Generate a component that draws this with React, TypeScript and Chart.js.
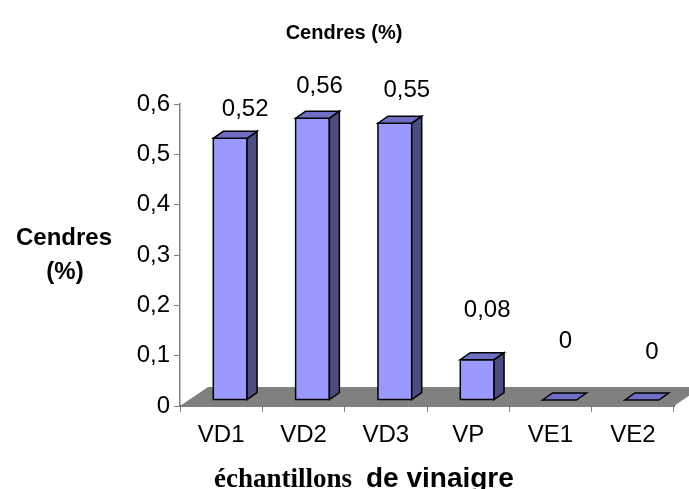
import { useEffect, useRef } from "react";
import { Chart, registerables } from "chart.js";

Chart.register(...registerables);

// ---- data ----
const categories = ["VD1", "VD2", "VD3", "VP", "VE1", "VE2"];
const cendres = [0.52, 0.56, 0.55, 0.08, 0, 0];
const yTicks = [0, 0.1, 0.2, 0.3, 0.4, 0.5, 0.6];
const chartTitle = "Cendres (%)";
const yTitleLines = ["Cendres", "(%)"];
const xTitleSerif = "échantillons";
const xTitleSans = "de vinaigre";

// ---- value-label placement (relative to the bar's front-top corner) ----
const labelShiftX = [24, 16, 21, 19, 15, 19];
const labelLift = [29, 32, 33, 49, 59, 48];

// ---- styling ----
const SANS = '"Liberation Sans", Arial, sans-serif';
const SERIF = '"Liberation Serif", "Times New Roman", serif';
const FLOOR = { dx: 28, dy: -19, color: "#808080" };
const BAR_SHIFT = { dx: 9, dy: -6 };
const BAR_DEPTH = { dx: 10, dy: -7 };
const FRONT = "#9999FF";
const TOP = "#6E6EC4";
const SIDE = "#4C4C80";

const fmt = (v: number) => String(v).replace(".", ",");

const poly = (ctx: CanvasRenderingContext2D, pts: number[][], fill: string) => {
  ctx.beginPath();
  ctx.moveTo(pts[0][0], pts[0][1]);
  for (let i = 1; i < pts.length; i++) ctx.lineTo(pts[i][0], pts[i][1]);
  ctx.closePath();
  ctx.fillStyle = fill;
  ctx.fill();
  ctx.stroke();
};

const bars3d = {
  id: "bars3d",
  beforeDatasetsDraw(chart: any) {
    const { ctx, chartArea, scales } = chart;
    const y0 = scales.y.getPixelForValue(0);
    ctx.save();
    ctx.fillStyle = FLOOR.color;
    ctx.beginPath();
    ctx.moveTo(chartArea.left, y0);
    ctx.lineTo(chartArea.right, y0);
    ctx.lineTo(chartArea.right + FLOOR.dx, y0 + FLOOR.dy);
    ctx.lineTo(chartArea.left + FLOOR.dx, y0 + FLOOR.dy);
    ctx.closePath();
    ctx.fill();
    ctx.restore();
  },
  afterDatasetsDraw(chart: any) {
    const { ctx } = chart;
    const meta = chart.getDatasetMeta(0);
    ctx.save();
    ctx.strokeStyle = "#000";
    ctx.lineWidth = 1.5;
    ctx.lineJoin = "miter";
    meta.data.forEach((el: any, i: number) => {
      const { x, y, base, width } = el.getProps(["x", "y", "base", "width"], true);
      const l = x - width / 2 + BAR_SHIFT.dx;
      const r = x + width / 2 + BAR_SHIFT.dx;
      const t = y + BAR_SHIFT.dy;
      const b = base + BAR_SHIFT.dy;
      const { dx, dy } = BAR_DEPTH;
      if (b - t > 0.5) {
        poly(ctx, [[l, t], [r, t], [r, b], [l, b]], FRONT);
        poly(ctx, [[r, t], [r + dx, t + dy], [r + dx, b + dy], [r, b]], SIDE);
      }
      poly(ctx, [[l, t], [r, t], [r + dx, t + dy], [l + dx, t + dy]], TOP);

      // value label
      ctx.fillStyle = "#000";
      ctx.font = `24px ${SANS}`;
      ctx.textAlign = "center";
      ctx.textBaseline = "middle";
      ctx.fillText(fmt(cendres[i]), x + labelShiftX[i], t - labelLift[i]);
    });
    ctx.restore();
  },
  afterDraw(chart: any) {
    const { ctx } = chart;
    ctx.save();
    ctx.fillStyle = "#000";
    ctx.textBaseline = "middle";
    ctx.textAlign = "center";
    ctx.font = `bold 20px ${SANS}`;
    ctx.fillText(chartTitle, 344, 33);

    ctx.font = `bold 24px ${SANS}`;
    ctx.fillText(yTitleLines[0], 64, 238);
    ctx.fillText(yTitleLines[1], 65, 272);

    ctx.textAlign = "left";
    ctx.textBaseline = "alphabetic";
    ctx.font = `bold 27px ${SERIF}`;
    ctx.fillText(xTitleSerif, 214, 487);
    ctx.font = `bold 28px ${SANS}`;
    ctx.fillText(xTitleSans, 366, 487);
    ctx.restore();
  },
};

export default function App() {
  const ref = useRef<HTMLCanvasElement | null>(null);

  useEffect(() => {
    if (!ref.current) return;
    const chart = new Chart(ref.current, {
      type: "bar",
      data: {
        labels: categories,
        datasets: [
          {
            data: cendres,
            backgroundColor: "rgba(0,0,0,0)",
            borderWidth: 0,
            categoryPercentage: 1,
            barPercentage: 0.41,
          },
        ],
      },
      options: {
        animation: false,
        responsive: true,
        maintainAspectRatio: false,
        layout: { padding: { left: 0, top: 104, right: 15, bottom: 0 } },
        plugins: {
          legend: { display: false },
          title: { display: false },
          tooltip: { enabled: false },
        },
        scales: {
          x: {
            z: 1,
            grid: {
              offset: true,
              drawOnChartArea: false,
              drawTicks: true,
              tickLength: 6,
              color: "#808080",
            },
            border: { display: true, color: "#000", width: 1.5 },
            ticks: {
              color: "#000",
              padding: 9,
              font: { family: SANS, size: 24 },
              maxRotation: 0,
            },
            afterFit: (s: any) => {
              s.height = 83;
            },
          },
          y: {
            min: 0,
            max: 0.6,
            grid: {
              drawOnChartArea: false,
              drawTicks: true,
              tickLength: 6,
              color: "#808080",
            },
            border: { display: true, color: "#808080", width: 1.5 },
            ticks: {
              color: "#000",
              padding: 4,
              font: { family: SANS, size: 24 },
              callback: (v: any) => fmt(Number(v)),
            },
            afterBuildTicks: (s: any) => {
              s.ticks = yTicks.map((v) => ({ value: v }));
            },
            afterFit: (s: any) => {
              s.width = 180;
            },
          },
        },
      },
      plugins: [bars3d],
    });
    return () => chart.destroy();
  }, []);

  return (
    <div style={{ position: "absolute", left: 0, top: 0, width: 689, height: 489, background: "#fff" }}>
      <canvas ref={ref} />
    </div>
  );
}
